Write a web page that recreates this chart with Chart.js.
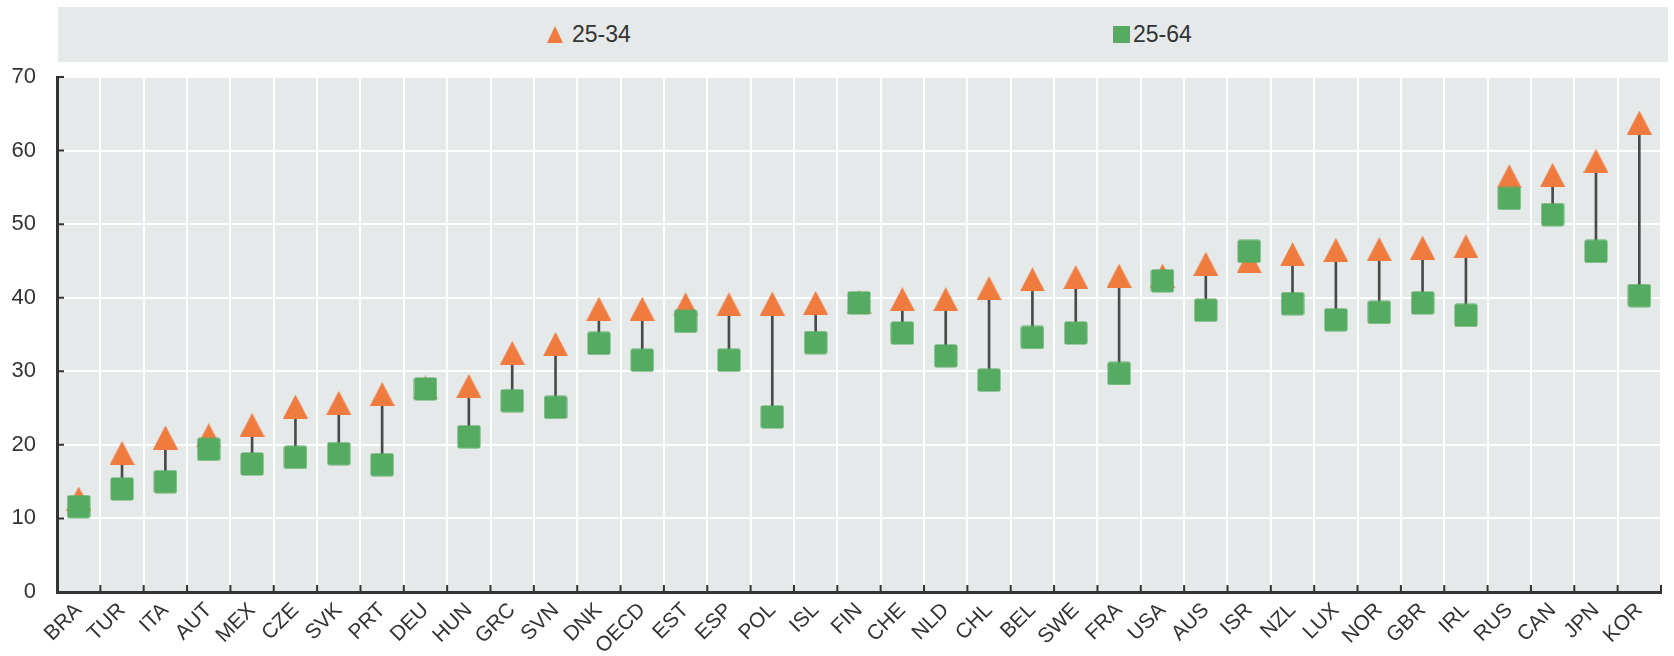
<!DOCTYPE html>
<html>
<head>
<meta charset="utf-8">
<script src="https://cdn.jsdelivr.net/npm/chart.js@4.4.1/dist/chart.umd.min.js"></script>
<style>
  html, body { margin: 0; padding: 0; background: #fff; }
  #wrap { position: relative; width: 1674px; height: 656px; }
  #legend {
    position: absolute; left: 58px; top: 7px; width: 1610px; height: 55px;
    background: #e6e9ea; color: #333; font-size: 23px;
    font-family: "Liberation Sans Narrow", "Liberation Sans", Arial, sans-serif;
  }
  .item { position: absolute; top: 0; height: 55px; display: flex; align-items: center; }
  .tri { width: 0; height: 0; border-left: 8.5px solid transparent; border-right: 8.5px solid transparent; border-bottom: 17px solid #f07b3f; margin-right: 9px; }
  .sq { width: 17px; height: 17px; background: #55ab61; margin-right: 3px; }
</style>
</head>
<body>
<div id="wrap">
  <canvas id="chart" width="1674" height="656"></canvas>
  <div id="legend">
    <div class="item" style="left:489px"><span class="tri"></span><span id="lab0"></span></div>
    <div class="item" style="left:1055px"><span class="sq"></span><span id="lab1"></span></div>
  </div>
</div>
<script>
const countries = ["BRA", "TUR", "ITA", "AUT", "MEX", "CZE", "SVK", "PRT", "DEU", "HUN",
  "GRC", "SVN", "DNK", "OECD", "EST", "ESP", "POL", "ISL", "FIN", "CHE", "NLD", "CHL",
  "BEL", "SWE", "FRA", "USA", "AUS", "ISR", "NZL", "LUX", "NOR", "GBR", "IRL", "RUS",
  "CAN", "JPN", "KOR"];

// 25-34 year-olds (triangles)
const age25to34 = [12.7, 18.9, 21.0, 21.3, 22.7, 25.2, 25.7, 26.9, 27.8, 28.0,
  32.5, 33.7, 38.5, 38.5, 39.1, 39.1, 39.2, 39.3, 39.4, 39.8, 39.8, 41.3,
  42.5, 42.8, 43.0, 43.0, 44.6, 45.0, 45.9, 46.5, 46.6, 46.8, 47.0, 56.5,
  56.7, 58.6, 63.8];

// 25-64 year-olds (squares)
const age25to64 = [11.6, 14.0, 15.0, 19.4, 17.4, 18.3, 18.8, 17.3, 27.6, 21.1,
  26.0, 25.1, 33.8, 31.5, 36.8, 31.5, 23.8, 33.9, 39.3, 35.2, 32.1, 28.8,
  34.6, 35.2, 29.7, 42.3, 38.3, 46.3, 39.2, 37.0, 38.0, 39.3, 37.6, 53.5,
  51.3, 46.3, 40.3];

const seriesLabels = ["25-34", "25-64"];
const yMin = 0, yMax = 70, yStep = 10;

const ORANGE = "#f07b3f";
const GREEN = "#55ab61";
const FONT = "'Liberation Sans Narrow', 'Liberation Sans', Arial, sans-serif";

document.getElementById("lab0").textContent = seriesLabels[0];
document.getElementById("lab1").textContent = seriesLabels[1];

// marker images, centred on their bounding box
function makeMarker(shape, w, h, color) {
  const c = document.createElement("canvas");
  c.width = w;
  c.height = h;
  const g = c.getContext("2d");
  g.fillStyle = color;
  g.beginPath();
  if (shape === "triangle") {
    g.moveTo(w / 2, 0);
    g.lineTo(w, h);
    g.lineTo(0, h);
  } else {
    g.roundRect(0.5, 0.5, w - 1, h - 1, 2);
  }
  g.fill();
  return c;
}

const triangle = makeMarker("triangle", 25, 24, ORANGE);
const square = makeMarker("square", 24, 24, GREEN);

const plotBackground = {
  id: "plotBackground",
  beforeDraw(chart) {
    const { ctx, chartArea: a } = chart;
    ctx.save();
    ctx.fillStyle = "#e6e9ea";
    ctx.fillRect(a.left, a.top, a.right - a.left, a.bottom - a.top);
    ctx.restore();
  }
};

// short tick marks pointing into the plot
const innerTicks = {
  id: "innerTicks",
  afterDraw(chart) {
    const { ctx, chartArea: a, scales } = chart;
    ctx.save();
    ctx.strokeStyle = "#333";
    ctx.lineWidth = 2;
    ctx.beginPath();
    const n = countries.length;
    for (let i = 1; i <= n; i++) {
      const x = i < n
        ? (scales.x.getPixelForValue(i - 1) + scales.x.getPixelForValue(i)) / 2
        : a.right;
      ctx.moveTo(x, a.bottom);
      ctx.lineTo(x, a.bottom - 7);
    }
    scales.y.ticks.forEach((t) => {
      if (t.value === 0) return;
      const y = scales.y.getPixelForValue(t.value);
      ctx.moveTo(a.left, y);
      ctx.lineTo(a.left + 7, y);
    });
    ctx.stroke();
    ctx.restore();
  }
};

new Chart(document.getElementById("chart").getContext("2d"), {
  data: {
    labels: countries,
    datasets: [
      {
        type: "bar",
        label: "gap",
        data: countries.map((c, i) => [age25to64[i], age25to34[i]]),
        backgroundColor: "#4a4a4a",
        barThickness: 2,
        order: 3
      },
      {
        type: "line",
        label: seriesLabels[0],
        data: age25to34,
        showLine: false,
        pointStyle: triangle,
        pointRadius: 12,
        order: 2
      },
      {
        type: "line",
        label: seriesLabels[1],
        data: age25to64,
        showLine: false,
        pointStyle: square,
        pointRadius: 12,
        order: 1
      }
    ]
  },
  options: {
    responsive: false,
    animation: false,
    events: [],
    layout: { padding: { top: 77, right: 11, left: 0, bottom: 0 } },
    plugins: {
      legend: { display: false },
      tooltip: { enabled: false }
    },
    scales: {
      x: {
        offset: true,
        grid: { offset: true, color: "#fff", lineWidth: 2, drawTicks: false },
        border: { color: "#333", width: 3 },
        ticks: {
          autoSkip: false,
          maxRotation: 45,
          minRotation: 45,
          padding: 6,
          color: "#333",
          font: { family: FONT, size: 21 }
        },
        afterFit: (s) => { s.height = 64; }
      },
      y: {
        min: yMin,
        max: yMax,
        ticks: {
          stepSize: yStep,
          padding: 21,
          color: "#333",
          font: { family: FONT, size: 22 }
        },
        grid: { color: "#fff", lineWidth: 2, drawTicks: false },
        border: { color: "#333", width: 3 },
        afterFit: (s) => { s.width = 57; }
      }
    }
  },
  plugins: [plotBackground, innerTicks]
});
</script>
</body>
</html>
